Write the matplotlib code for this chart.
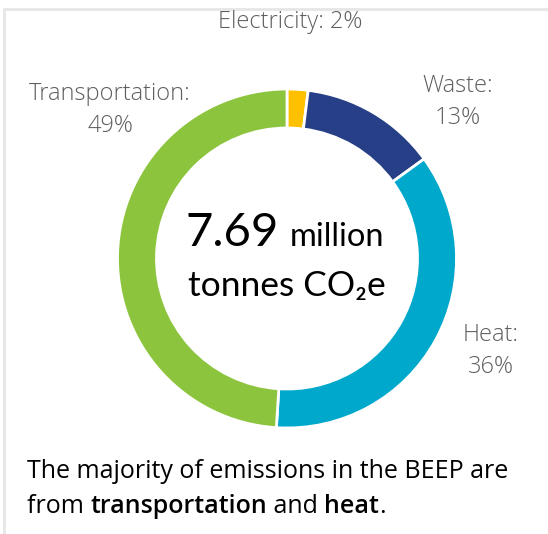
import matplotlib
matplotlib.use("Agg")
import matplotlib.pyplot as plt
from matplotlib.lines import Line2D

# emissions share by sector, clockwise from 12 o'clock
sectors = ["Electricity", "Waste", "Heat", "Transportation"]
shares = [2, 13, 36, 49]
colours = ["#FFC000", "#263F86", "#00A8CC", "#8CC43E"]

W, H = 548, 534
fig = plt.figure(figsize=(W / 100, H / 100), dpi=100)

def fx(px):
    return px / W

def fy(py):
    return 1 - py / H

# light grey card frame: only top and left edges show
fig.add_artist(Line2D([fx(4), fx(4), 1.0], [0.0, fy(9), fy(9)], transform=fig.transFigure,
                      color="#E6E6E6", linewidth=2))

# donut
cx, cy, r = 287, 258.5, 169.5
ax = fig.add_axes([fx(cx - r), fy(cy + r), 2 * r / W, 2 * r / H])
ax.pie(shares, colors=colours, startangle=90, counterclock=False,
       wedgeprops=dict(width=39 / r, edgecolor="white", linewidth=2))
ax.set_xlim(-1, 1)
ax.set_ylim(-1, 1)
ax.set_aspect("equal")
ax.axis("off")

lab = dict(color="#5F5F5F", fontsize=17, fontweight="light",
           family=["Open Sans", "DejaVu Sans"], ha="center", va="center")
fig.text(fx(290), fy(22), f"{sectors[0]}: {shares[0]}%", **lab)
fig.text(fx(458), fy(102), f"{sectors[1]}:\n{shares[1]}%", linespacing=1.45, **lab)
fig.text(fx(491), fy(351), f"{sectors[2]}:\n{shares[2]}%", linespacing=1.45, **lab)
fig.text(fx(110), fy(110), f"{sectors[3]}:\n{shares[3]}%", linespacing=1.45, **lab)

# centre total
fig.canvas.draw()
rend = fig.canvas.get_renderer()
big = fig.text(fx(186), fy(246), "7.69", fontsize=34, color="black",
               family=["Lato", "DejaVu Sans"], ha="left", va="baseline")
bb = big.get_window_extent(rend)
fig.text(fx(bb.x1 + 10), fy(246), "million", fontsize=23.5, color="black",
         family=["Lato", "DejaVu Sans"], ha="left", va="baseline")
fig.text(fx(287), fy(296), "tonnes CO\u2082e", fontsize=25.5, color="black",
         family=["Lato", "DejaVu Sans"], ha="center", va="baseline")

# caption with bold words
cap = dict(fontsize=18, color="black", family=["Open Sans", "DejaVu Sans"],
           va="baseline", ha="left")
fig.text(fx(27), fy(478), "The majority of emissions in the BEEP are", **cap)
x = 27
for piece, wt in [("from ", "normal"), ("transportation", "semibold"), (" and ", "normal"),
                  ("heat", "semibold"), (".", "normal")]:
    t = fig.text(fx(x), fy(513), piece, fontweight=wt, **cap)
    x += t.get_window_extent(rend).width
fig.savefig("out.png", dpi=100)
